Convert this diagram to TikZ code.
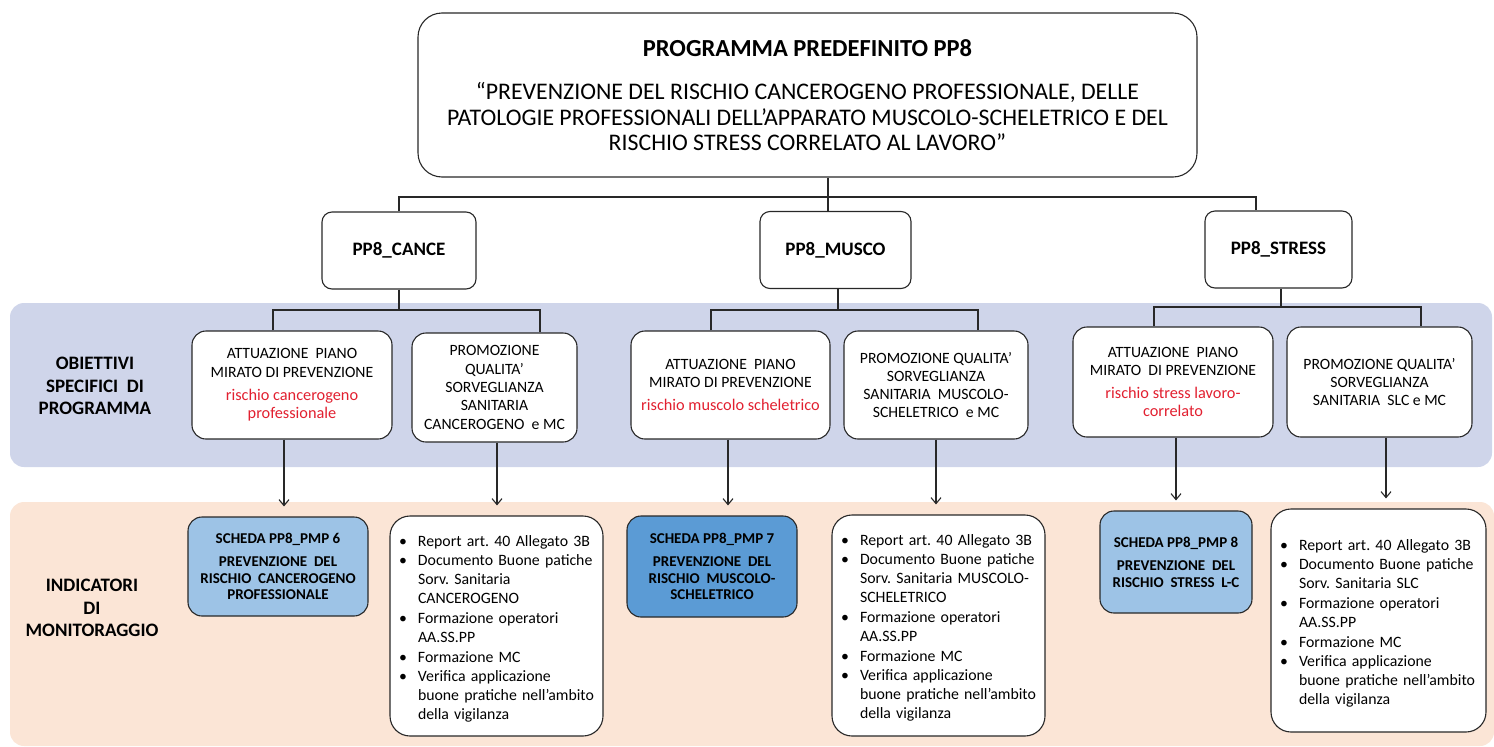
\documentclass[tikz,border=0pt]{standalone}
\usepackage{fontspec}
\setmainfont{Carlito}
\usetikzlibrary{arrows.meta}

\definecolor{bandblue}{RGB}{207,213,234}
\definecolor{bandpeach}{RGB}{251,229,214}
\definecolor{schedalight}{RGB}{157,195,230}
\definecolor{schedadark}{RGB}{91,155,213}
\definecolor{riskred}{RGB}{226,32,48}
\definecolor{linegray}{RGB}{40,40,40}

% one bullet of an indicator list, lines broken by hand
\newcommand{\voce}[1]{\par\noindent\makebox[19pt][l]{\textbullet}\begin{tabular}[t]{@{}l@{}}#1\end{tabular}\par}
% red risk text
\newcommand{\rischio}[1]{\textcolor{riskred}{\fontsize{16.3}{18}\selectfont #1}}

\frenchspacing

\begin{document}
\begin{tikzpicture}[x=1pt,y=-1pt,line width=1.1pt,draw=linegray,
  head box/.style={draw=linegray,rounded corners=24pt,fill=white,minimum width=779pt,minimum height=164pt,
    align=center,font=\fontsize{23.8}{25.5}\selectfont},
  prog box/.style={draw=linegray,rounded corners=10pt,fill=white,minimum height=77pt,
    font=\fontsize{19}{22}\selectfont\bfseries},
  obj box/.style={draw=linegray,rounded corners=14pt,fill=white,minimum height=108pt,
    align=center,font=\fontsize{15.7}{18.3}\selectfont},
  scheda/.style={draw=linegray,rounded corners=14pt,minimum height=100pt,
    align=center,font=\fontsize{15}{16.5}\selectfont\bfseries},
  lista/.style={draw=linegray,rounded corners=20pt,fill=white,minimum height=220pt,inner xsep=9pt,
    align=left,font=\fontsize{15.8}{19}\selectfont},
  row label/.style={align=center,font=\fontsize{19}{22.5}\selectfont\bfseries},
  arr/.style={-{Straight Barb[length=6pt,width=10pt]},shorten >=10pt}]

  \useasboundingbox (0,0) rectangle (1494,747);

  % bands
  \fill[bandblue,rounded corners=14pt] (10,303) rectangle (1492,467);
  \fill[bandpeach,rounded corners=14pt] (10,502) rectangle (1494,746);

  \node[row label] (obiettivi) at (95,386) {OBIETTIVI\\SPECIFICI~ DI\\PROGRAMMA};
  \node[row label] (indicatori) at (92,608) {INDICATORI\\DI\\MONITORAGGIO};

  % programma
  \node[head box] (pp8) at (807.5,95) {\textbf{\fontsize{24.5}{25.5}\selectfont PROGRAMMA PREDEFINITO PP8}\\[18pt]
    “PREVENZIONE DEL RISCHIO CANCEROGENO PROFESSIONALE, DELLE\\
    PATOLOGIE PROFESSIONALI DELL’APPARATO MUSCOLO-SCHELETRICO E DEL\\
    RISCHIO STRESS CORRELATO AL LAVORO”};

  \node[prog box,minimum width=154pt] (cance) at (399,250.5) {PP8\_CANCE};
  \node[prog box,minimum width=151pt] (musco) at (835.5,250) {PP8\_MUSCO};
  \node[prog box,minimum width=147pt] (stress) at (1278.5,249.5) {PP8\_STRESS};

  % obiettivi
  \node[obj box,minimum width=200pt] (a1) at (292,385) {ATTUAZIONE~ PIANO\\MIRATO DI PREVENZIONE\\[5pt]
    \rischio{rischio cancerogeno}\\\rischio{professionale}};
  \node[obj box,minimum width=165pt,minimum height=109pt] (p1) at (494.5,387.5) {PROMOZIONE\\QUALITA’\\SORVEGLIANZA\\SANITARIA\\CANCEROGENO~ e MC};
  \node[obj box,minimum width=199pt] (a2) at (730.5,385) {ATTUAZIONE~ PIANO\\MIRATO DI PREVENZIONE\\[5pt]
    \rischio{rischio muscolo scheletrico}};
  \node[obj box,minimum width=184pt] (p2) at (936,385) {PROMOZIONE QUALITA’\\SORVEGLIANZA\\SANITARIA~ MUSCOLO-\\SCHELETRICO~ e MC};
  \node[obj box,minimum width=200pt,minimum height=110pt] (a3) at (1173,382) {ATTUAZIONE~ PIANO\\MIRATO~ DI PREVENZIONE\\[5pt]
    \rischio{rischio stress lavoro-}\\\rischio{correlato}};
  \node[obj box,minimum width=185pt,minimum height=110pt] (p3) at (1379.5,382) {PROMOZIONE QUALITA’\\SORVEGLIANZA\\SANITARIA~ SLC e MC};

  % indicatori
  \node[scheda,fill=schedalight,minimum width=180pt,minimum height=99pt] (s1) at (278,566.5)
    {SCHEDA PP8\_PMP 6\\[7pt]PREVENZIONE~ DEL\\RISCHIO~ CANCEROGENO\\PROFESSIONALE};
  \node[scheda,fill=schedadark,minimum width=170pt,minimum height=101pt] (s2) at (712,566.5)
    {SCHEDA PP8\_PMP 7\\[7pt]PREVENZIONE~ DEL\\RISCHIO~ MUSCOLO-\\SCHELETRICO};
  \node[scheda,fill=schedalight,minimum width=152pt,minimum height=102pt] (s3) at (1176,562)
    {SCHEDA PP8\_PMP 8\\[7pt]PREVENZIONE~ DEL\\RISCHIO~ STRESS~ L-C};

  \node[lista,text width=195pt] (l1) at (496.5,626) {%
    \voce{Report art. 40 Allegato 3B}
    \voce{Documento Buone patiche\\Sorv. Sanitaria\\CANCEROGENO}
    \voce{Formazione operatori\\AA.SS.PP}
    \voce{Formazione MC}
    \voce{Verifica applicazione\\buone pratiche nell’ambito\\della vigilanza}\vspace*{8pt}};
  \node[lista,text width=195pt,minimum height=221pt] (l2) at (938.5,625.5) {%
    \voce{Report art. 40 Allegato 3B}
    \voce{Documento Buone patiche\\Sorv. Sanitaria MUSCOLO-\\SCHELETRICO}
    \voce{Formazione operatori\\AA.SS.PP}
    \voce{Formazione MC}
    \voce{Verifica applicazione\\buone pratiche nell’ambito\\della vigilanza}\vspace*{8pt}};
  \node[lista,text width=197pt,minimum height=223pt] (l3) at (1378.5,620.5) {%
    \voce{Report art. 40 Allegato 3B}
    \voce{Documento Buone patiche\\Sorv. Sanitaria SLC}
    \voce{Formazione operatori\\AA.SS.PP}
    \voce{Formazione MC}
    \voce{Verifica applicazione\\buone pratiche nell’ambito\\della vigilanza}\vspace*{8pt}};

  % tree lines
  \coordinate (hub) at (828,197);
  \coordinate (hub3) at (1256,197);
  \draw (pp8.south -| hub) -- (hub);
  \draw (cance.north) |- (hub) -- (hub3) -- (hub3 |- stress.north);
  \draw (hub) -- (hub |- musco.north);

  \coordinate (j1a) at (273,310);
  \coordinate (j1b) at (540,310);
  \draw (cance.south) -- (cance.south |- j1a);
  \draw (a1.north -| j1a) -- (j1a) -- (j1b) -- (p1.north -| j1b);

  \coordinate (j2) at (838,310);
  \coordinate (j2a) at (711,310);
  \coordinate (j2b) at (978,310);
  \draw (musco.south -| j2) -- (j2);
  \draw (a2.north -| j2a) -- (j2a) -- (j2b) -- (p2.north -| j2b);

  \coordinate (j3) at (1281,307);
  \coordinate (j3a) at (1154,307);
  \coordinate (j3b) at (1421,307);
  \draw (stress.south -| j3) -- (j3);
  \draw (a3.north -| j3a) -- (j3a) -- (j3b) -- (p3.north -| j3b);

  % arrows down
  \coordinate (t1) at (284,0);
  \coordinate (t2) at (497,0);
  \coordinate (t3) at (728,0);
  \coordinate (t4) at (936,0);
  \coordinate (t5) at (1176,0);
  \coordinate (t6) at (1386,0);
  \draw[arr] (a1.south -| t1) -- (s1.north -| t1);
  \draw[arr] (p1.south -| t2) -- (l1.north -| t2);
  \draw[arr] (a2.south -| t3) -- (s2.north -| t3);
  \draw[arr] (p2.south -| t4) -- (l2.north -| t4);
  \draw[arr] (a3.south -| t5) -- (s3.north -| t5);
  \draw[arr] (p3.south -| t6) -- (l3.north -| t6);
\end{tikzpicture}
\end{document}
